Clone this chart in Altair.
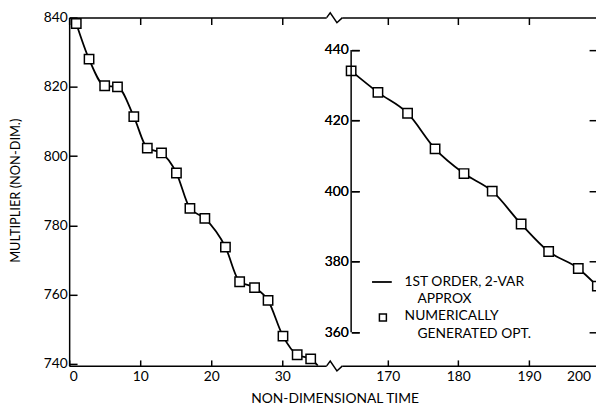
import altair as alt
import pandas as pd

# ---------------- data ----------------
left_t = [1.0, 2.8, 5.0, 6.8, 9.1, 11.0, 13.0, 15.1, 17.0, 19.1, 22.0, 24.0, 26.1, 28.0, 30.1, 32.1, 34.0]
left_m = [838.3, 828.0, 820.3, 820.0, 811.4, 802.3, 800.9, 795.1, 784.9, 782.0, 773.7, 763.7, 762.0, 758.3, 748.0, 742.6, 741.4]
left_curve_t = left_t + [35.0]
left_curve_m = left_m + [739.5]

right_t = [164.8, 168.6, 172.8, 176.7, 180.8, 184.8, 188.9, 192.8, 197.0, 199.7]
right_m = [434.1, 428.0, 422.1, 412.0, 405.0, 400.0, 390.7, 382.9, 378.1, 373.1]

x_ticks = [0, 10, 20, 30, 170, 180, 190, 200]
left_y_ticks = [740, 760, 780, 800, 820, 840]
right_y_ticks = [360, 380, 400, 420, 440]
legend_labels = ["1ST ORDER, 2-VAR", "APPROX", "NUMERICALLY", "GENERATED OPT."]
break_t = [37.36]

FONT = "Lato"
W, H = 534, 353

left_df = pd.DataFrame({"t": left_t, "m": left_m})
left_curve_df = pd.DataFrame({"t": left_curve_t, "m": left_curve_m})
right_df = pd.DataFrame({"t": right_t, "m": right_m})
right_axis_df = pd.DataFrame({"t": [right_t[0]], "lo": [right_y_ticks[0]], "hi": [right_y_ticks[-1]]})
break_df = pd.DataFrame({"t": break_t})

# broken (piecewise) time scale
x_scale = alt.Scale(domain=[0, 37.36, 162.45, 200], range=[0, 269, 269, 537.5], nice=False, zero=False)
left_y_scale = alt.Scale(domain=[739.4, 840], nice=False, zero=False)
right_y_scale = alt.Scale(domain=[350.5, 449.2], nice=False, zero=False)

x_bottom = alt.X("t:Q", scale=x_scale, axis=alt.Axis(
    orient="bottom", values=x_ticks, title="NON-DIMENSIONAL TIME", grid=False,
    tickSize={"expr": "-6"}, labelPadding=10, titleX=269, titleY=33,
    labelOffset={"condition": {"test": "datum.value == 200", "value": -9}, "value": 0},
    titleAlign="center", titleBaseline="middle", titleFontSize=14, titleFontWeight="normal"))
x_top = alt.X("t:Q", scale=x_scale, axis=alt.Axis(
    orient="top", values=x_ticks, title=None, labels=False, grid=False,
    tickSize={"expr": "-7"}))

y_left = alt.Y("m:Q", scale=left_y_scale, axis=alt.Axis(
    orient="left", values=left_y_ticks, title="MULTIPLIER (NON-DIM.)", grid=False,
    tickSize={"expr": "-8"}, labelPadding=10, titleX=-54, titleY=175, titleAngle=270,
    titleAlign="center", titleBaseline="middle", titleFontSize=13, titleFontWeight="normal"))
y_right = alt.Y("m:Q", scale=right_y_scale, axis=alt.Axis(
    orient="left", offset=-286, values=right_y_ticks, title=None, grid=False, domain=False,
    tickSize={"expr": "-8"}, labelPadding=11))
y_right_edge = alt.Y("lo:Q", scale=right_y_scale, axis=alt.Axis(
    orient="right", values=right_y_ticks, title=None, grid=False, domain=False, labels=False,
    tickSize={"expr": "-7"}))

line_style = dict(color="black", strokeWidth=1.8, interpolate="monotone")
pt_style = dict(shape="square", size=90, filled=True, fill="white", stroke="black", strokeWidth=1.5, opacity=1)

left_group = alt.layer(
    alt.Chart(left_curve_df).mark_line(**line_style).encode(x=x_bottom, y=y_left),
    alt.Chart(left_df).mark_point(**pt_style).encode(x=x_bottom, y=y_left),
)

right_line = alt.Chart(right_df).mark_line(**line_style).encode(x=x_top, y=y_right)
right_pts = alt.Chart(right_df).mark_point(**pt_style).encode(x=x_top, y=y_right)
right_axis_line = alt.Chart(right_axis_df).mark_rule(color="black", strokeWidth=1.5).encode(
    x=x_top, y=y_right_edge, y2="hi:Q")

# axis breaks
mask_shape = "M-1,-0.3L1,-0.3L1,0.3L-1,0.3Z"
zig_shape = "M-1,0L-0.55,-0.6L0.3,0.65L1,0"
breaks = []
for yv in [0, H]:
    breaks.append(alt.Chart(break_df).mark_point(shape=mask_shape, size=256, filled=True,
                                                 fill="white", strokeWidth=0, opacity=1)
                  .encode(x=x_top, y=alt.value(yv)))
    breaks.append(alt.Chart(break_df).mark_point(shape=zig_shape, size=256, filled=False,
                                                 stroke="black", strokeWidth=1.5, opacity=1)
                  .encode(x=x_top, y=alt.value(yv)))

# legend drawn by hand
leg_line = alt.Chart(break_df).mark_rule(color="black", strokeWidth=1.8).encode(
    x=alt.value(307), x2=alt.value(327), y=alt.value(268))
leg_sq = alt.Chart(break_df).mark_point(shape="square", size=50, filled=True, fill="white",
                                        stroke="black", strokeWidth=1.5, opacity=1).encode(
    x=alt.value(318), y=alt.value(304))
text_pos = [(340, 268), (353, 285), (340, 303), (353, 321)]
leg_texts = []
for lab, (tx, ty) in zip(legend_labels, text_pos):
    leg_texts.append(alt.Chart(pd.DataFrame({"label": [lab]})).mark_text(
        align="left", baseline="middle", font=FONT, fontSize=14, color="black").encode(
        x=alt.value(tx), y=alt.value(ty), text="label:N"))

right_group = alt.layer(
    right_line, right_pts, right_axis_line, *breaks, leg_line, leg_sq, *leg_texts
).resolve_axis(y="independent")

chart = alt.layer(left_group, right_group).resolve_scale(y="independent").resolve_axis(
    x="independent", y="independent"
).properties(
    width=W, height=H,
    autosize=alt.AutoSizeParams(type="none"),
    padding={"left": 62, "top": 7, "right": 0, "bottom": 40},
).configure_view(stroke=None).configure_axis(
    labelFont=FONT, titleFont=FONT, labelFontSize=14, labelColor="black", titleColor="black",
    domainColor="black", tickColor="black", domainWidth=1.5, tickWidth=1.5,
)

chart.save("out.html", embed_options={"renderer": "svg", "actions": False})
